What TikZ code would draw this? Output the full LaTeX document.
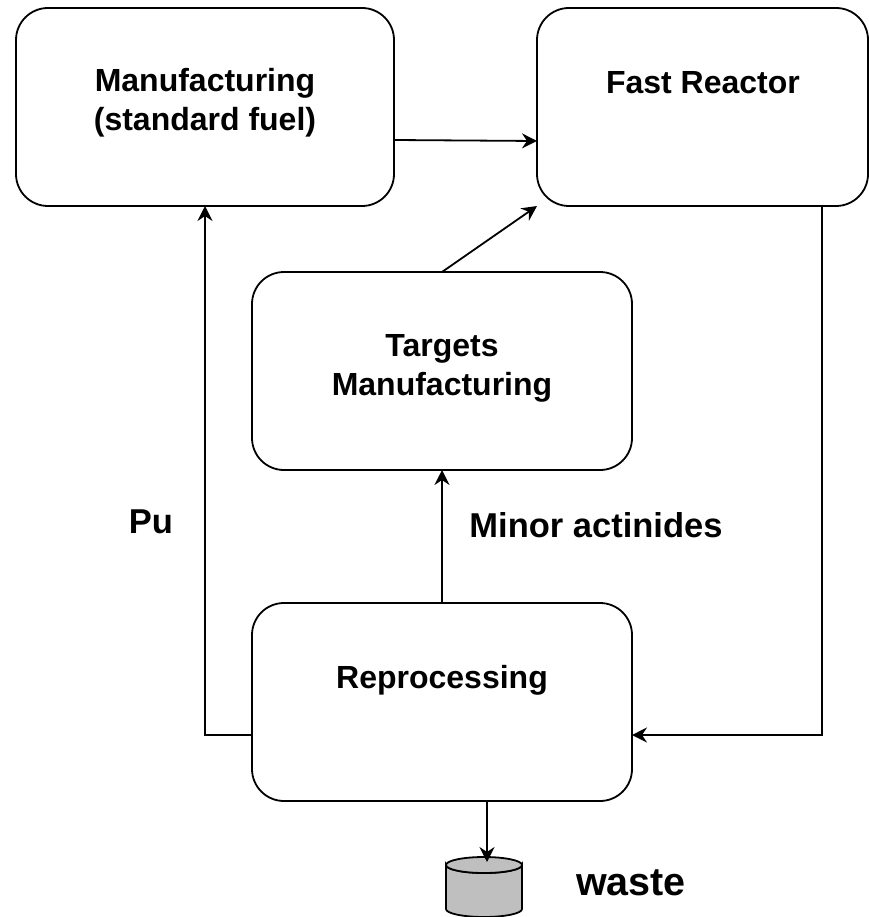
\documentclass[tikz,border=0pt]{standalone}
\usepackage{fontspec}
\setmainfont{Liberation Sans}
\usetikzlibrary{arrows.meta}
\tikzset{
 box/.style={draw=black,line width=1.8pt,rounded corners=32pt,fill=white,inner sep=0pt},
 lbl/.style={font=\fontsize{32pt}{39pt}\selectfont\bfseries,align=center,inner sep=0pt},
 biglbl/.style={font=\fontsize{34.5pt}{38.5pt}\selectfont\bfseries,anchor=base,inner sep=0pt},
 hugelbl/.style={font=\fontsize{39.5pt}{42pt}\selectfont\bfseries,anchor=base,inner sep=0pt},
 conn/.style={line width=1.8pt,-{Stealth[length=15pt,width=15pt,inset=5pt]}},
 tank/.style={draw=black,line width=1.8pt,fill=black!25}
}
\begin{document}
\begin{tikzpicture}[x=1pt,y=-1pt]
\useasboundingbox (0,0) rectangle (868,917);
\draw[box] (16,8) rectangle (394,206);
\draw[box] (537,8) rectangle (868,206);
\draw[box] (252,272) rectangle (632,470);
\draw[box] (252,603) rectangle (632,801);
\coordinate (mw) at (205,206);
\coordinate (mo) at (394,140);
\coordinate (fi) at (537,141);
\coordinate (fb) at (537,206);
\coordinate (fo) at (822,206);
\coordinate (ti) at (442,272);
\coordinate (tb) at (442,470);
\coordinate (ro) at (442,603);
\coordinate (rw) at (252,735);
\coordinate (re) at (632,735);
\coordinate (rb) at (487,801);
\coordinate (ct) at (487,862);
\node[lbl] (a) at (205,103) {Manufacturing\\(standard fuel)};
\node[lbl,anchor=base] (b) at (703,94) {Fast Reactor};
\node[lbl] (c) at (442,368) {Targets\\Manufacturing};
\node[lbl,anchor=base] (d) at (442,688) {Reprocessing};
\node[biglbl] (pu) at (151,533) {Pu};
\node[biglbl] (ma) at (596,537) {Minor actinides};
\node[hugelbl] (w) at (631,895) {waste};
\draw[tank] (446,865) -- (446,909) arc[start angle=180,end angle=360,x radius=38,y radius=-8] -- (522,865) arc[start angle=0,end angle=180,x radius=38,y radius=8] -- cycle;
\draw[tank] (484,865) ellipse[x radius=38,y radius=8];
\draw[conn] (mo) -- (fi);
\draw[conn] (ti) -- (fb);
\draw[conn] (ro) -- (tb);
\draw[conn] (rw) -- (205,735) -- (mw);
\draw[conn] (fo) -- (822,735) -- (re);
\draw[conn] (rb) -- (ct);
\end{tikzpicture}
\end{document}
